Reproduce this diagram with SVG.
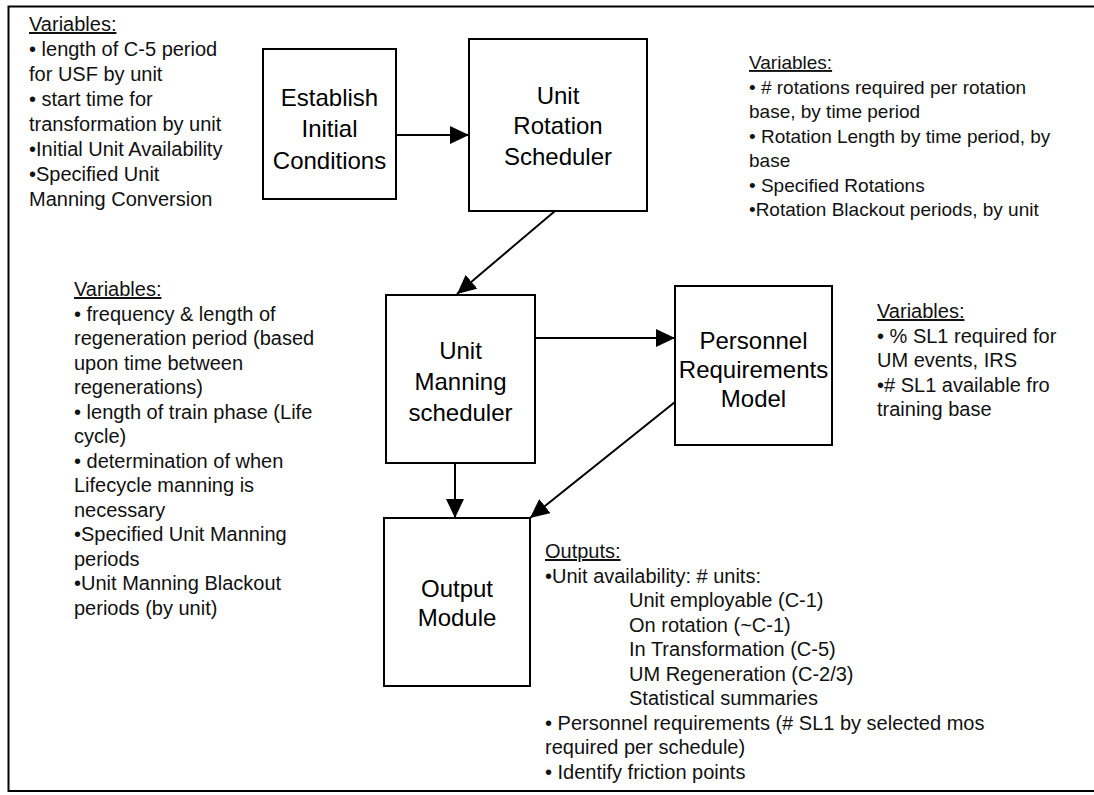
<svg xmlns="http://www.w3.org/2000/svg" width="1094" height="795" viewBox="0 0 1094 795">
<defs>
<marker id="ah" markerUnits="userSpaceOnUse" markerWidth="20" markerHeight="18" refX="19" refY="9" orient="auto">
<path d="M0,0 L19,9 L0,18 Z" fill="#000"/>
</marker>
<style>
.box{fill:#fff;stroke:#000;stroke-width:2}
.lbl{font-family:"Liberation Sans",Arial,sans-serif;font-size:24px;fill:#000;text-anchor:middle}
.t{font-family:"Liberation Sans",Arial,sans-serif;font-size:20px;fill:#111}
.s{font-size:19px}
.hd{text-decoration:underline}
.c{stroke:#000;stroke-width:2;fill:none;marker-end:url(#ah)}
</style>
</defs>
<rect width="1094" height="795" fill="#fff"/>
<path d="M1094,6.5 H8.5 V791 H1094" fill="none" stroke="#000" stroke-width="2"/>

<g id="connectors">
<line class="c" x1="396" y1="135" x2="469" y2="135"/>
<line class="c" x1="555" y1="211" x2="457" y2="294"/>
<line class="c" x1="535" y1="338" x2="675" y2="338"/>
<line class="c" x1="455" y1="463" x2="455" y2="518"/>
<line class="c" x1="675" y1="402" x2="530" y2="518"/>
</g>

<g id="establish">
<rect class="box" x="263" y="49" width="133" height="150"/>
<text class="lbl" x="329.5" y="105.5">Establish</text>
<text class="lbl" x="329.5" y="137">Initial</text>
<text class="lbl" x="329.5" y="168.5">Conditions</text>
</g>

<g id="rotation-scheduler">
<rect class="box" x="469" y="39" width="178" height="172"/>
<text class="lbl" x="558" y="103.5">Unit</text>
<text class="lbl" x="558" y="134">Rotation</text>
<text class="lbl" x="558" y="164.5">Scheduler</text>
</g>

<g id="manning-scheduler">
<rect class="box" x="386" y="295" width="149" height="168"/>
<text class="lbl" x="460.5" y="358.5">Unit</text>
<text class="lbl" x="460.5" y="389.5">Manning</text>
<text class="lbl" x="460.5" y="420.5">scheduler</text>
</g>

<g id="personnel-model">
<rect class="box" x="675" y="286" width="157" height="159"/>
<text class="lbl" x="753.5" y="348.5">Personnel</text>
<text class="lbl" x="753.5" y="377.5">Requirements</text>
<text class="lbl" x="753.5" y="406.5">Model</text>
</g>

<g id="output-module">
<rect class="box" x="384" y="518" width="146" height="168"/>
<text class="lbl" x="457" y="596.5">Output</text>
<text class="lbl" x="457" y="626">Module</text>
</g>

<g id="vars-initial">
<text class="t hd" x="29" y="31">Variables:</text>
<text class="t" x="29" y="56">• length of C-5 period</text>
<text class="t" x="29" y="81">for USF by unit</text>
<text class="t" x="29" y="106">• start time for</text>
<text class="t" x="29" y="131">transformation by unit</text>
<text class="t" x="29" y="156">•Initial Unit Availability</text>
<text class="t" x="29" y="181">•Specified Unit</text>
<text class="t" x="29" y="206">Manning Conversion</text>
</g>

<g id="vars-rotation">
<text class="t s hd" x="749" y="69">Variables:</text>
<text class="t s" x="749" y="93.5">• # rotations required per rotation</text>
<text class="t s" x="749" y="118">base, by time period</text>
<text class="t s" x="749" y="142.5">• Rotation Length by time period, by</text>
<text class="t s" x="749" y="167">base</text>
<text class="t s" x="749" y="191.5">• Specified Rotations</text>
<text class="t s" x="749" y="216">•Rotation Blackout periods, by unit</text>
</g>

<g id="vars-manning">
<text class="t hd" x="74" y="296">Variables:</text>
<text class="t" x="74" y="320.5">• frequency &amp; length of</text>
<text class="t" x="74" y="345">regeneration period (based</text>
<text class="t" x="74" y="369.5">upon time between</text>
<text class="t" x="74" y="394">regenerations)</text>
<text class="t" x="74" y="418.5">• length of train phase (Life</text>
<text class="t" x="74" y="443">cycle)</text>
<text class="t" x="74" y="467.5">• determination of when</text>
<text class="t" x="74" y="492">Lifecycle manning is</text>
<text class="t" x="74" y="516.5">necessary</text>
<text class="t" x="74" y="541">•Specified Unit Manning</text>
<text class="t" x="74" y="565.5">periods</text>
<text class="t" x="74" y="590">•Unit Manning Blackout</text>
<text class="t" x="74" y="614.5">periods (by unit)</text>
</g>

<g id="vars-personnel">
<text class="t hd" x="877" y="318">Variables:</text>
<text class="t" x="877" y="343">• % SL1 required for</text>
<text class="t" x="877" y="367">UM events, IRS</text>
<text class="t" x="877" y="392">•# SL1 available fro</text>
<text class="t" x="877" y="416">training base</text>
</g>

<g id="outputs">
<text class="t hd" x="545" y="558">Outputs:</text>
<text class="t" x="545" y="582.5">•Unit availability: # units:</text>
<text class="t" x="629" y="607">Unit employable (C-1)</text>
<text class="t" x="629" y="631.5">On rotation (~C-1)</text>
<text class="t" x="629" y="656">In Transformation (C-5)</text>
<text class="t" x="629" y="680.5">UM Regeneration (C-2/3)</text>
<text class="t" x="629" y="705">Statistical summaries</text>
<text class="t" x="545" y="729.5">• Personnel requirements (# SL1 by selected mos</text>
<text class="t" x="545" y="754">required per schedule)</text>
<text class="t" x="545" y="778.5">• Identify friction points</text>
</g>
</svg>
